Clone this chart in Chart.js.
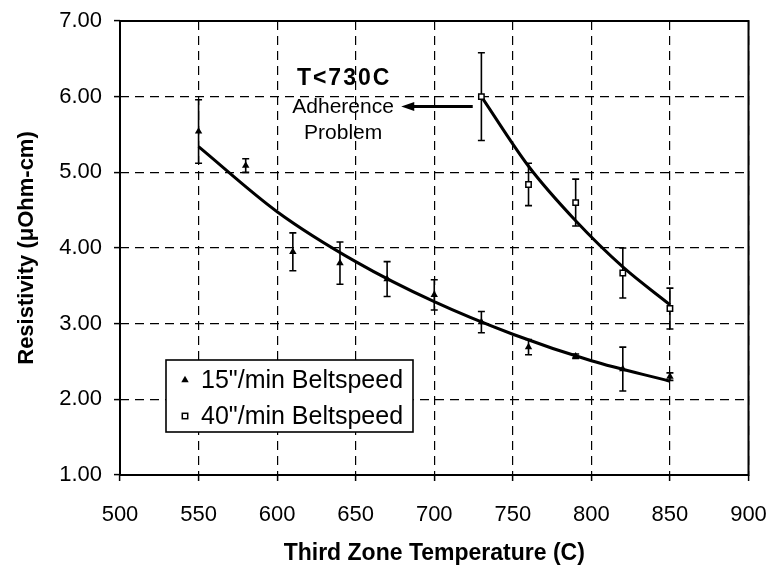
<!DOCTYPE html>
<html>
<head>
<meta charset="utf-8">
<title>Resistivity vs Third Zone Temperature</title>
<script src="https://cdn.jsdelivr.net/npm/chart.js@4.4.1/dist/chart.umd.min.js"></script>
<style>
  html, body { margin: 0; padding: 0; background: #ffffff; }
  canvas { display: block; background: #ffffff; }
</style>
</head>
<body>
<canvas id="chart" width="774" height="578"></canvas>
<script>
// Measured resistivity, 15"/min belt speed
const temps15 = [550, 580, 610, 640, 670, 700, 730, 760, 790, 820, 850];
const res15   = [5.54, 5.09, 3.95, 3.80, 3.59, 3.38, 3.02, 2.69, 2.57, 2.40, 2.30];
const err15   = [0.42, 0.09, 0.25, 0.28, 0.23, 0.20, 0.14, 0.10, 0.03, 0.29, 0.05];

// Measured resistivity, 40"/min belt speed
const temps40 = [730, 760, 790, 820, 850];
const res40   = [6.00, 4.84, 4.60, 3.67, 3.20];
const err40   = [0.58, 0.28, 0.31, 0.33, 0.27];

// Trend curves through each series
const fitTemps15 = [550, 600, 650, 700, 750, 800, 850];
const fit15      = [5.34, 4.48, 3.82, 3.29, 2.86, 2.51, 2.24];
const fitTemps40 = [730, 760, 790, 820, 850];
const fit40      = [6.00, 5.08, 4.36, 3.75, 3.25];

// Axis ticks
const xTicks = [500, 550, 600, 650, 700, 750, 800, 850, 900];
const yTicks = [1, 2, 3, 4, 5, 6, 7];

// Labels
const seriesLabels = ['15"/min Beltspeed', '40"/min Beltspeed'];
const noteLines = ['T<730C', 'Adherence', 'Problem'];

const FONT = '"Liberation Sans", Arial, Helvetica, sans-serif';

const pairs = (xs, ys) => xs.map((x, i) => ({ x, y: ys[i] }));

// Vertical error bars with caps, drawn under the markers
const errorBars = {
  id: 'errorBars',
  beforeDatasetsDraw(chart) {
    const { ctx, scales: { x, y } } = chart;
    const cap = 3.5;
    ctx.save();
    ctx.strokeStyle = '#000';
    ctx.lineWidth = 1.6;
    chart.data.datasets.forEach(ds => {
      if (!ds.errors) return;
      ds.data.forEach((p, i) => {
        const e = ds.errors[i];
        const px = x.getPixelForValue(p.x);
        const top = y.getPixelForValue(p.y + e);
        const bot = y.getPixelForValue(p.y - e);
        ctx.beginPath();
        ctx.moveTo(px, top); ctx.lineTo(px, bot);
        ctx.moveTo(px - cap, top); ctx.lineTo(px + cap, top);
        ctx.moveTo(px - cap, bot); ctx.lineTo(px + cap, bot);
        ctx.stroke();
      });
    });
    ctx.restore();
  }
};

// Solid frame round the plot area
const frame = {
  id: 'frame',
  beforeDatasetsDraw(chart) {
    const { ctx, chartArea: a } = chart;
    ctx.save();
    ctx.strokeStyle = '#000';
    ctx.lineWidth = 2;
    ctx.strokeRect(a.left, a.top, a.right - a.left, a.bottom - a.top);
    ctx.restore();
  }
};

function drawMarker(ctx, style, cx, cy) {
  ctx.save();
  ctx.strokeStyle = '#000';
  if (style === 'triangle') {
    const r = 4.3;
    ctx.fillStyle = '#000';
    ctx.beginPath();
    ctx.moveTo(cx, cy - r);
    ctx.lineTo(cx + r * 0.866, cy + r * 0.5);
    ctx.lineTo(cx - r * 0.866, cy + r * 0.5);
    ctx.closePath();
    ctx.fill();
  } else {
    ctx.fillStyle = '#fff';
    ctx.lineWidth = 1.5;
    ctx.fillRect(cx - 2.7, cy - 2.7, 5.4, 5.4);
    ctx.strokeRect(cx - 2.7, cy - 2.7, 5.4, 5.4);
  }
  ctx.restore();
}

// Boxed legend inside the plot area
const boxLegend = {
  id: 'boxLegend',
  afterDatasetsDraw(chart) {
    const { ctx, chartArea: a } = chart;
    const bx = a.left + 46, by = a.top + 339, bw = 247, bh = 72;
    ctx.save();
    ctx.fillStyle = '#fff';
    ctx.fillRect(bx, by, bw, bh);
    ctx.strokeStyle = '#000';
    ctx.lineWidth = 1.6;
    ctx.strokeRect(bx, by, bw, bh);
    const sets = chart.data.datasets.filter(d => d.errors);
    sets.forEach((ds, i) => {
      const cy = by + 20 + i * 36;
      drawMarker(ctx, ds.pointStyle, bx + 19, cy);
      ctx.fillStyle = '#000';
      ctx.font = '25px ' + FONT;
      ctx.textBaseline = 'middle';
      ctx.textAlign = 'left';
      ctx.fillText(ds.label, bx + 35, cy + 1);
    });
    ctx.restore();
  }
};

// Note about adhesion below 730 C, with a pointer arrow
const note = {
  id: 'note',
  afterDatasetsDraw(chart) {
    const { ctx, scales: { x, y } } = chart;
    const cx = x.getPixelForValue(642);
    ctx.save();
    ctx.fillStyle = '#000';
    ctx.textAlign = 'center';
    ctx.textBaseline = 'middle';
    ctx.font = 'bold 23px ' + FONT;
    ctx.letterSpacing = '2px';
    ctx.fillText(noteLines[0], cx + 1, y.getPixelForValue(6.24));
    ctx.letterSpacing = '0px';
    ctx.font = '21px ' + FONT;
    ctx.fillText(noteLines[1], cx, y.getPixelForValue(5.86));
    ctx.fillText(noteLines[2], cx, y.getPixelForValue(5.52));

    const ay = y.getPixelForValue(5.87);
    const tip = x.getPixelForValue(679);
    const tail = x.getPixelForValue(724.5);
    ctx.strokeStyle = '#000';
    ctx.lineWidth = 3;
    ctx.beginPath();
    ctx.moveTo(tail, ay);
    ctx.lineTo(tip + 10, ay);
    ctx.stroke();
    ctx.beginPath();
    ctx.moveTo(tip, ay);
    ctx.lineTo(tip + 13, ay - 4.5);
    ctx.lineTo(tip + 13, ay + 4.5);
    ctx.closePath();
    ctx.fill();
    ctx.restore();
  }
};

const gridStyle = {
  color: '#000',
  lineWidth: 1.2,
  drawTicks: true,
  tickLength: 6,
  tickColor: '#000',
  tickWidth: 1.5,
  tickBorderDash: []
};

// Dashed grid lines; the solid frame is drawn separately
const borderStyle = { display: false, dash: [9, 6] };

new Chart(document.getElementById('chart'), {
  type: 'scatter',
  data: {
    datasets: [
      {
        label: seriesLabels[0],
        data: pairs(temps15, res15),
        errors: err15,
        pointStyle: 'triangle',
        pointRadius: 4.3,
        backgroundColor: '#000',
        borderColor: '#000',
        borderWidth: 0,
        showLine: false
      },
      {
        label: seriesLabels[1],
        data: pairs(temps40, res40),
        errors: err40,
        pointStyle: 'rect',
        pointRadius: 3.8,
        backgroundColor: '#fff',
        borderColor: '#000',
        borderWidth: 1.5,
        showLine: false
      },
      {
        label: 'fit15',
        data: pairs(fitTemps15, fit15),
        showLine: true,
        borderColor: '#000',
        borderWidth: 3,
        pointRadius: 0,
        cubicInterpolationMode: 'monotone',
        fill: false
      },
      {
        label: 'fit40',
        data: pairs(fitTemps40, fit40),
        showLine: true,
        borderColor: '#000',
        borderWidth: 3,
        pointRadius: 0,
        cubicInterpolationMode: 'monotone',
        fill: false
      }
    ]
  },
  options: {
    responsive: false,
    animation: false,
    events: [],
    layout: { padding: { left: 0, right: 25.5, top: 21, bottom: 0 } },
    plugins: {
      legend: { display: false },
      tooltip: { enabled: false },
      title: { display: false }
    },
    scales: {
      x: {
        type: 'linear',
        min: xTicks[0],
        max: xTicks[xTicks.length - 1],
        afterBuildTicks(scale) { scale.ticks = xTicks.map(v => ({ value: v })); },
        afterFit(scale) {
          scale.height = 103;
          scale.paddingLeft = 16;
          scale.paddingRight = 16;
        },
        border: borderStyle,
        grid: gridStyle,
        ticks: {
          color: '#000',
          font: { family: FONT, size: 22 },
          padding: 21,
          maxRotation: 0
        },
        title: {
          display: true,
          text: 'Third Zone Temperature (C)',
          color: '#000',
          font: { family: FONT, size: 23, weight: 'bold' },
          padding: { top: 0, bottom: 11 }
        }
      },
      y: {
        type: 'linear',
        min: yTicks[0],
        max: yTicks[yTicks.length - 1],
        afterBuildTicks(scale) { scale.ticks = yTicks.map(v => ({ value: v })); },
        afterFit(scale) {
          scale.width = 120;
          scale.paddingTop = 12;
          scale.paddingBottom = 12;
        },
        border: borderStyle,
        grid: gridStyle,
        ticks: {
          color: '#000',
          font: { family: FONT, size: 22 },
          padding: 12,
          callback: v => Number(v).toFixed(2)
        },
        title: {
          display: true,
          text: 'Resistivity (\u03bcOhm-cm)',
          color: '#000',
          font: { family: FONT, size: 22, weight: 'bold' },
          padding: { top: 14, bottom: 0 }
        }
      }
    }
  },
  plugins: [errorBars, frame, boxLegend, note]
});
</script>
</body>
</html>
